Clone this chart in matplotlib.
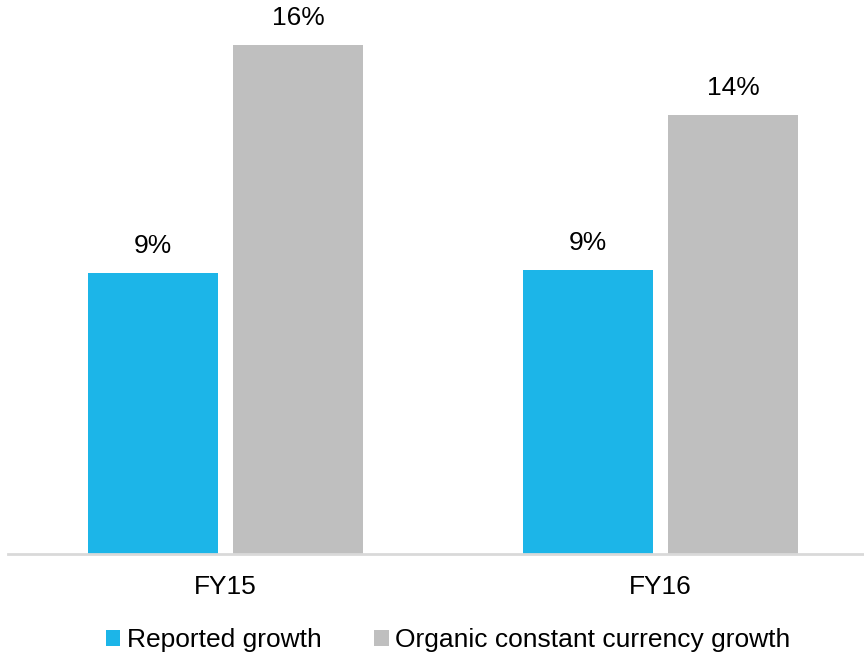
import matplotlib.pyplot as plt
import numpy as np

plt.rcParams['font.family'] = ['Liberation Sans', 'DejaVu Sans']

categories = ['FY15', 'FY16']
reported = [8.83, 8.93]
organic = [16.0, 13.8]
reported_labels = ['9%', '9%']
organic_labels = ['16%', '14%']

blue = '#1cb5e8'
grey = '#bfbfbf'

fig = plt.figure(figsize=(8.64, 6.56), dpi=100)
# axes runs a little past the right edge, as in the original crop
ax = fig.add_axes([8 / 864, 101.7 / 656, 870 / 864, 554.3 / 656])

x = np.arange(len(categories))
w = 0.30
off = 0.167
b1 = ax.bar(x - off, reported, w, color=blue, label='Reported growth')
b2 = ax.bar(x + off, organic, w, color=grey, label='Organic constant currency growth')

for bars, labels in [(b1, reported_labels), (b2, organic_labels)]:
    for bar, lab in zip(bars, labels):
        ax.annotate(lab, (bar.get_x() + bar.get_width() / 2, bar.get_height()),
                    xytext=(0, 11), textcoords='offset points',
                    ha='center', va='bottom', fontsize=19)

ax.set_xlim(-0.5, 1.5)
ax.set_ylim(0, 17.41)
ax.set_xticks(x)
ax.set_xticklabels(categories, fontsize=19)
ax.tick_params(axis='x', length=0, pad=15)
ax.set_yticks([])
for s in ['top', 'right', 'left']:
    ax.spines[s].set_visible(False)
ax.spines['bottom'].set_color('#d9d9d9')
ax.spines['bottom'].set_linewidth(2)

fig.legend(handles=[b1, b2], loc='center', bbox_to_anchor=(448 / 864, 1 - 640 / 656),
           ncol=2, frameon=False, fontsize=19, handlelength=0.55, handleheight=0.55,
           handletextpad=0.25, columnspacing=2.0, borderaxespad=0)

plt.savefig('out.png', dpi=100)
